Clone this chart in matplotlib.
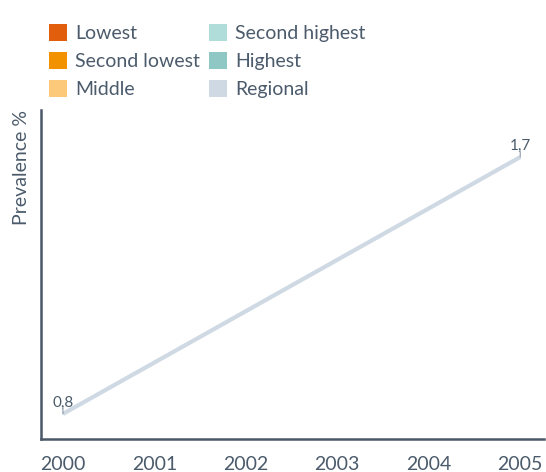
import matplotlib.pyplot as plt
from matplotlib.patches import Patch

plt.rcParams['font.family'] = ['Lato', 'DejaVu Sans']

years = [2000, 2001, 2002, 2003, 2004, 2005]
regional_years = [2000, 2005]
regional_vals = [0.8, 1.7]
legend_labels = ['Lowest', 'Second lowest', 'Middle', 'Second highest', 'Highest', 'Regional']
legend_colors = ['#e05e0c', '#f39200', '#fcc97a', '#b0dcd9', '#8fc7c5', '#cfd9e4']

txt = '#4b5b6b'

fig = plt.figure(figsize=(5.46, 4.72), dpi=100)
ax = fig.add_axes([41 / 546, 33 / 472, 503 / 546, 329 / 472])

ax.plot(regional_years, regional_vals, color=legend_colors[-1], lw=3, solid_capstyle='butt')
for x, y in zip(regional_years, regional_vals):
    ax.annotate(f'{y}'.replace('.', ','), (x, y), xytext=(0, 3), textcoords='offset points',
                ha='center', va='bottom', fontsize=11, color=txt)
    ax.annotate('', (x, y), xytext=(0, 4), textcoords='offset points',
                arrowprops=dict(arrowstyle='-', color='#8a99a8', lw=0.8, shrinkA=0, shrinkB=0))

ax.set_xlim(1999.76, 2005.26)
ax.set_ylim(0.712, 1.865)
ax.set_xticks(years)
ax.set_xticklabels([str(y) for y in years])
ax.set_yticks([])
ax.tick_params(axis='x', length=0, pad=12, labelsize=14, labelcolor=txt)
for s in ['top', 'right']:
    ax.spines[s].set_visible(False)
for s in ['left', 'bottom']:
    ax.spines[s].set_color('#4a5868')
    ax.spines[s].set_linewidth(1.8)
ax.set_ylabel('Prevalence %', fontsize=14, color=txt)
ax.yaxis.set_label_coords(-0.022, 0.824)

handles = [Patch(facecolor=c, edgecolor='none') for c in legend_colors]
fig.legend(handles, legend_labels, ncol=2, loc='upper left', bbox_to_anchor=(49 / 546, 1 - 24 / 472),
           frameon=False, fontsize=14, labelcolor=txt, handlelength=0.95, handleheight=0.95,
           handletextpad=0.39, columnspacing=0.46, labelspacing=0.52, borderpad=0, borderaxespad=0)

fig.savefig('out.png', dpi=100)
